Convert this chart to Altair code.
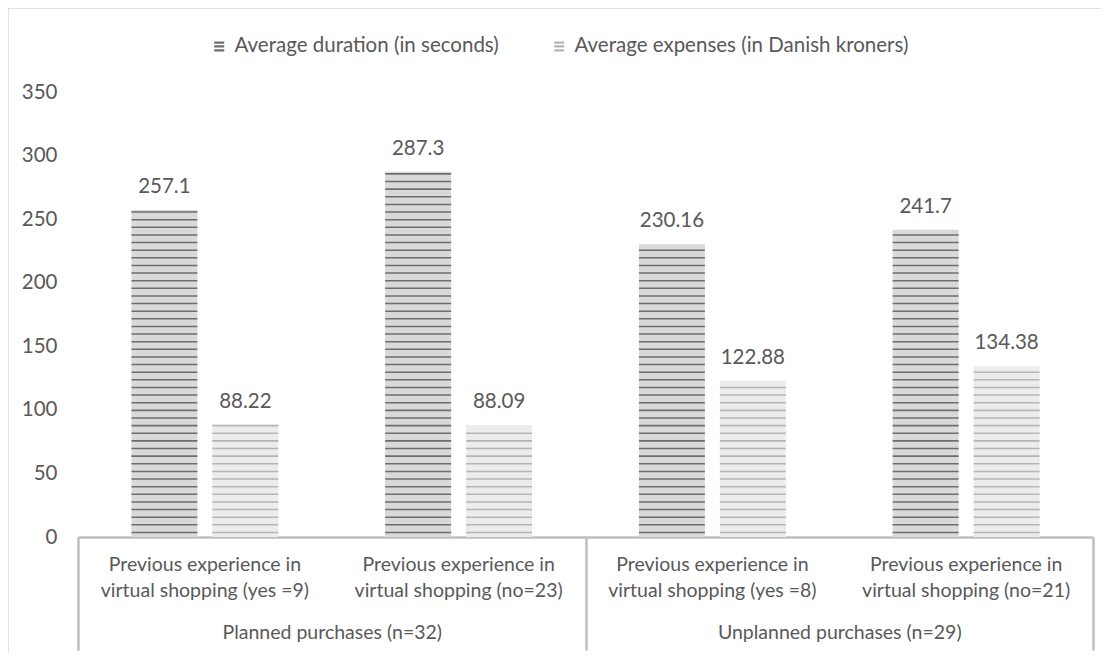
import altair as alt
import pandas as pd

# ---- data ----
groups = ["Planned purchases (n=32)", "Unplanned purchases (n=29)"]
categories = [
    "Previous experience in|virtual shopping (yes =9)",
    "Previous experience in|virtual shopping (no=23)",
    "Previous experience in|virtual shopping (yes =8)",
    "Previous experience in|virtual shopping (no=21)",
]
category_group = [0, 0, 1, 1]
series = ["Average duration (in seconds)", "Average expenses (in Danish kroners)"]
duration = [257.1, 287.3, 230.16, 241.7]
expenses = [88.22, 88.09, 122.88, 134.38]
duration_labels = ["257.1", "287.3", "230.16", "241.7"]
expenses_labels = ["88.22", "88.09", "122.88", "134.38"]
y_ticks = [0, 50, 100, 150, 200, 250, 300, 350]

# ---- styling ----
FONT = "Lato"
FS = 19.5
FS_NUM = 20.5
FS_LEG = 20.5
TXT = "#595959"
AXIS_LINE = "#bfbfbf"
bg_colors = ["#d9d9d9", "#ececec"]
stripe_colors = ["#6e6e6e", "#b5b5b5"]
STRIPE_STEP = 6.0     # pattern period (value units)
STRIPE_THICK = 1.2    # stripe thickness (value units)

rows = []
for i, c in enumerate(categories):
    for s, vals, labs in ((series[0], duration, duration_labels), (series[1], expenses, expenses_labels)):
        rows.append({"cat": c, "group": groups[category_group[i]], "series": s,
                     "value": vals[i], "label": labs[i]})
df = pd.DataFrame(rows)

# decorative hatch pattern rows (horizontal stripes inside each bar)
stripe_rows = []
for r in rows:
    p = 3.0
    while p + STRIPE_THICK <= r["value"]:
        stripe_rows.append({"cat": r["cat"], "kind": r["series"], "s": p, "s2": p + STRIPE_THICK})
        p += STRIPE_STEP
stripes = pd.DataFrame(stripe_rows)

W, H = 1015, 445

cat_scale = alt.Scale(domain=categories, paddingInner=0, paddingOuter=0)
cat_axis = alt.Axis(labelExpr="split(datum.label, '|')", labelAngle=0, ticks=False,
                    domain=True, domainColor=AXIS_LINE, domainWidth=2.5,
                    labelPadding=18, labelFontSize=FS, labelLineHeight=26,
                    labelColor=TXT, labelFont=FONT, labelLimit=400, grid=False)
y_axis = alt.Axis(values=y_ticks, title=None, domain=False, ticks=False, grid=False,
                  labelPadding=21, labelFontSize=FS_NUM, labelColor=TXT, labelFont=FONT)
y_scale = alt.Scale(domain=[0, 350], nice=False, zero=True)


def xo(field):
    return alt.XOffset(f"{field}:N", sort=series,
                       scale=alt.Scale(domain=series, paddingInner=0.185, paddingOuter=0.66))


bg = alt.Chart(df).mark_bar().encode(
    x=alt.X("cat:N", sort=categories, title=None, scale=cat_scale, axis=cat_axis),
    xOffset=xo("series"),
    y=alt.Y("value:Q", scale=y_scale, axis=y_axis, title=None),
    fill=alt.Fill("series:N", sort=series,
                  scale=alt.Scale(range=bg_colors), legend=None),
)

stripe_path = "M-1,-1H1V-0.55H-1Z M-1,-0.22H1V0.22H-1Z M-1,0.55H1V1H-1Z"
hatch = alt.Chart(stripes).mark_bar().encode(
    x=alt.X("cat:N", sort=categories, title=None, scale=cat_scale, axis=None),
    xOffset=xo("kind"),
    y=alt.Y("s:Q", scale=y_scale, axis=y_axis, title=None),
    y2="s2:Q",
    color=alt.Color("kind:N", sort=series,
                    scale=alt.Scale(domain=series, range=stripe_colors),
                    legend=alt.Legend(orient="none", legendX=131, legendY=-56,
                                      direction="horizontal", title=None,
                                      symbolType=stripe_path, symbolSize=100,
                                      symbolStrokeWidth=0, labelFontSize=FS_LEG,
                                      labelColor=TXT, labelFont=FONT,
                                      columnPadding=50, labelOffset=5,
                                      labelLimit=500)),
)

labels = alt.Chart(df).mark_text(baseline="alphabetic", dy=-17, fontSize=FS_NUM,
                                 color=TXT, font=FONT).encode(
    x=alt.X("cat:N", sort=categories, title=None, scale=cat_scale, axis=None),
    xOffset=xo("series"),
    y=alt.Y("value:Q", scale=y_scale, axis=y_axis, title=None),
    text="label:N",
)

group_df = pd.DataFrame({"group": groups})
group_axis = alt.Chart(group_df).mark_point(opacity=0).encode(
    x=alt.X("group:N", sort=groups, title=None,
            scale=alt.Scale(domain=groups, paddingInner=0, paddingOuter=0),
            axis=alt.Axis(orient="bottom", tickBand="extent", tickSize=113,
                          tickColor=AXIS_LINE, tickWidth=2.5, domain=False,
                          labelAngle=0, labelPadding=-27, labelFontSize=FS,
                          labelColor=TXT, labelFont=FONT, labelLimit=400, grid=False)),
    y=alt.value(0),
)

frame_df = pd.DataFrame({"a": [0]})
frame_left = alt.Chart(frame_df).mark_rule(color="#d9d9d9", strokeWidth=1.5).encode(
    x=alt.value(-70), y=alt.value(-84), y2=alt.value(H + 120))
frame_top = alt.Chart(frame_df).mark_rule(color="#d9d9d9", strokeWidth=1.5).encode(
    x=alt.value(-70), x2=alt.value(W + 20), y=alt.value(-84))

chart = alt.layer(bg, hatch, labels, group_axis, frame_left, frame_top).resolve_scale(
    x="independent"
).properties(
    width=W, height=H,
    padding={"left": 70, "top": 84, "right": 8, "bottom": 115},
    autosize=alt.AutoSizeParams(type="none"),
).configure(
    font=FONT, background="white",
    view=alt.ViewConfig(stroke="transparent", strokeWidth=0),
)

chart.save("out.html", embed_options={"renderer": "svg", "actions": False})
